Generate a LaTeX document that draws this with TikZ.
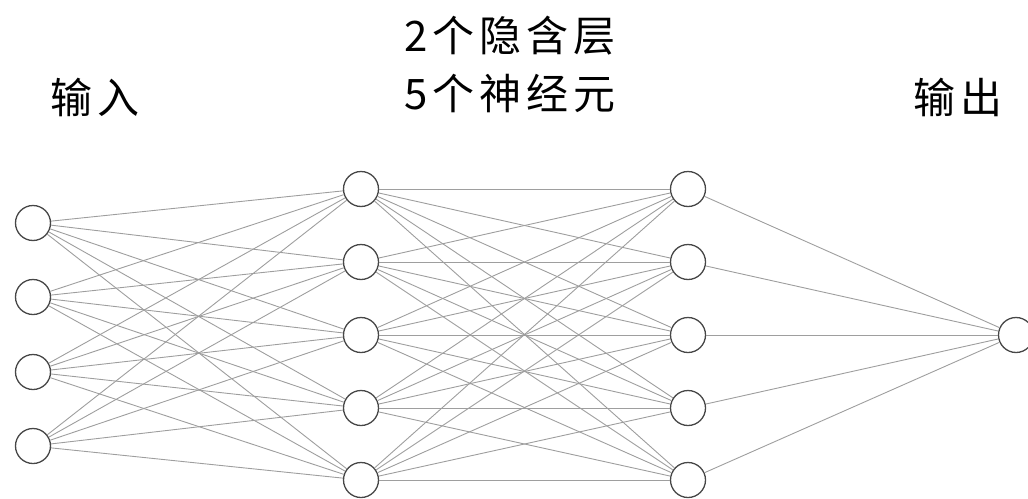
\documentclass[tikz,border=0pt]{standalone}
\usepackage{fontspec}
\newfontfamily\cjk[LetterSpace=12]{Noto Sans CJK SC}
\begin{document}
\begin{tikzpicture}[x=1pt,y=-1pt,
  neuron/.style={circle,draw=black!72,line width=1.3pt,fill=white,minimum size=35pt,inner sep=0pt},
  conn/.style={draw=black!38,line width=0.9pt},
  lbl/.style={font=\cjk\fontsize{42}{48}\selectfont,inner sep=0pt}]
\useasboundingbox (0,0) rectangle (1028,498);
\foreach \i/\y in {1/223,2/297,3/372,4/446} \node[neuron] (i\i) at (33,\y) {};
\foreach \i/\y in {1/189,2/262,3/335,4/408,5/480} {
  \node[neuron] (a\i) at (361,\y) {};
  \node[neuron] (b\i) at (688,\y) {};
}
\node[neuron] (o) at (1016,335) {};
\foreach \i in {1,...,4} \foreach \j in {1,...,5} \draw[conn] (i\i) -- (a\j);
\foreach \i in {1,...,5} \foreach \j in {1,...,5} \draw[conn] (a\i) -- (b\j);
\foreach \i in {1,...,5} \draw[conn] (b\i) -- (o);
\node[lbl] (tin) at (95,97) {输入};
\node[lbl] (th1) at (510,36) {2个隐含层};
\node[lbl] (th2) at (510,93) {5个神经元};
\node[lbl] (tout) at (958,97) {输出};
\end{tikzpicture}
\end{document}
